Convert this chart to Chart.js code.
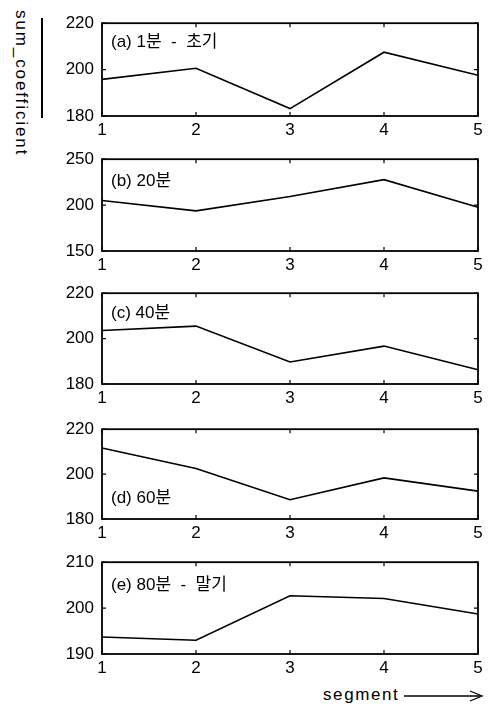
<!DOCTYPE html>
<html>
<head>
<meta charset="utf-8">
<script src="https://cdn.jsdelivr.net/npm/chart.js@4.4.1/dist/chart.umd.min.js"></script>
<style>
  html, body { margin: 0; padding: 0; background: #fff; }
  body { width: 488px; height: 706px; position: relative; overflow: hidden; font-family: "Liberation Sans", Arial, sans-serif; }
  canvas { position: absolute; left: 0; }
  #ytitle { position: absolute; left: 11px; top: 10px; writing-mode: vertical-rl; font-size: 17px; letter-spacing: 1.9px; color: #000; }
  #yline { position: absolute; left: 41px; top: 18px; width: 1.5px; height: 100px; background: #000; }
  #xtitle { position: absolute; left: 323px; top: 685px; font-size: 17px; letter-spacing: 1.6px; color: #000; }
  #xarrow { position: absolute; left: 402px; top: 688px; }
</style>
</head>
<body>
<div id="ytitle">sum_coefficient</div>
<div id="yline"></div>
<div id="xtitle">segment</div>
<svg id="xarrow" width="84" height="16"><line x1="2" y1="8" x2="78" y2="8" stroke="#000" stroke-width="1.3"/><path d="M68 3 L80 8 L68 13" fill="none" stroke="#000" stroke-width="1.3"/></svg>
<script>
const categories = ['1', '2', '3', '4', '5'];
const seriesA = [195.8, 200.6, 183.2, 207.5, 197.6];
const seriesB = [205.0, 193.7, 209.3, 227.7, 197.7];
const seriesC = [203.6, 205.5, 189.7, 196.7, 186.3];
const seriesD = [211.6, 202.5, 188.6, 198.3, 192.4];
const seriesE = [193.7, 193.0, 202.7, 202.1, 198.7];
const panelLabels = ['(a) 1분  -  초기', '(b) 20분', '(c) 40분', '(d) 60분', '(e) 80분  -  말기'];
const yTicksA = [180, 200, 220];
const yTicksB = [150, 200, 250];
const yTicksC = [180, 200, 220];
const yTicksD = [180, 200, 220];
const yTicksE = [190, 200, 210];

const panels = [
  { data: seriesA, ticks: yTicksA, label: panelLabels[0], top: 15, h: 101, labelY: 19 },
  { data: seriesB, ticks: yTicksB, label: panelLabels[1], top: 151, h: 100, labelY: 22 },
  { data: seriesC, ticks: yTicksC, label: panelLabels[2], top: 285, h: 99, labelY: 20 },
  { data: seriesD, ticks: yTicksD, label: panelLabels[3], top: 421, h: 98, labelY: 69 },
  { data: seriesE, ticks: yTicksE, label: panelLabels[4], top: 554, h: 100, labelY: 23 }
];

const PADTOP = 10, XH = 30;
const FONT = "'Liberation Sans', Arial, sans-serif";

const framePlugin = {
  id: 'frame',
  afterDraw(chart, args, opts) {
    const ctx = chart.ctx;
    const a = chart.chartArea;
    const xs = chart.scales.x, ys = chart.scales.y;
    ctx.save();
    ctx.strokeStyle = '#000';
    ctx.lineWidth = 1.8;
    ctx.strokeRect(a.left, a.top, a.right - a.left, a.bottom - a.top);
    ctx.lineWidth = 1.2;
    const tl = 4;
    categories.forEach((c, i) => {
      const px = xs.getPixelForValue(i);
      ctx.beginPath();
      ctx.moveTo(px, a.bottom); ctx.lineTo(px, a.bottom - tl);
      ctx.moveTo(px, a.top); ctx.lineTo(px, a.top + tl);
      ctx.stroke();
    });
    opts.ticks.forEach(v => {
      const py = ys.getPixelForValue(v);
      ctx.beginPath();
      ctx.moveTo(a.left, py); ctx.lineTo(a.left + tl, py);
      ctx.moveTo(a.right, py); ctx.lineTo(a.right - tl, py);
      ctx.stroke();
    });
    ctx.fillStyle = '#000';
    ctx.font = "17px 'Liberation Sans', 'Noto Sans CJK KR', Arial, sans-serif";
    ctx.textBaseline = 'middle';
    ctx.textAlign = 'left';
    ctx.fillText(opts.label, a.left + 9, a.top + opts.labelY);
    ctx.restore();
  }
};

panels.forEach((p) => {
  const cv = document.createElement('canvas');
  cv.width = 488;
  cv.height = PADTOP + p.h + XH;
  cv.style.top = (p.top - PADTOP) + 'px';
  document.body.appendChild(cv);
  const t = p.ticks;
  new Chart(cv, {
    type: 'line',
    data: {
      labels: categories,
      datasets: [{
        data: p.data,
        borderColor: '#000',
        borderWidth: 1.6,
        pointRadius: 0,
        tension: 0,
        fill: false
      }]
    },
    options: {
      responsive: false,
      animation: false,
      devicePixelRatio: 1,
      layout: { padding: { top: PADTOP, right: 10, left: 0, bottom: 0 } },
      plugins: {
        legend: { display: false },
        tooltip: { enabled: false },
        frame: { ticks: t, label: p.label, labelY: p.labelY }
      },
      scales: {
        x: {
          type: 'category',
          offset: false,
          grid: { display: false, drawTicks: false },
          border: { display: false },
          ticks: { color: '#000', font: { family: FONT, size: 17 }, padding: 4, maxRotation: 0, autoSkip: false },
          afterFit: s => { s.height = XH; }
        },
        y: {
          min: t[0],
          max: t[t.length - 1],
          grid: { display: false, drawTicks: false },
          border: { display: false },
          afterBuildTicks: s => { s.ticks = t.map(v => ({ value: v })); },
          ticks: { color: '#000', font: { family: FONT, size: 17 }, padding: 8 },
          afterFit: s => { s.width = 102; }
        }
      }
    },
    plugins: [framePlugin]
  });
});
</script>
</body>
</html>
